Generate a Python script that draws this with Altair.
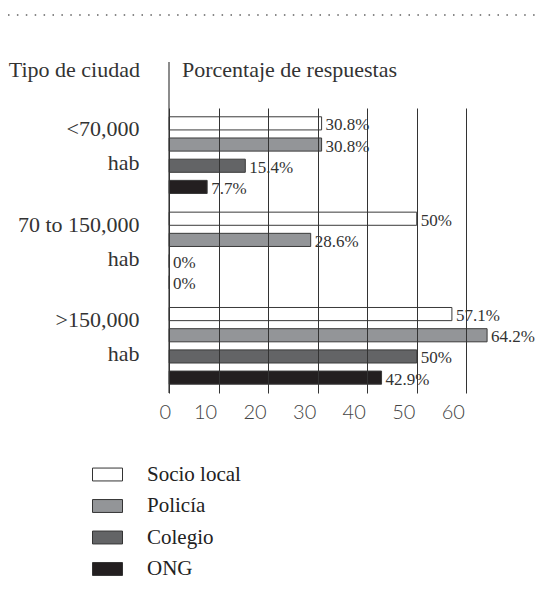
import altair as alt
import pandas as pd

groups = ["<70,000 hab", "70 to 150,000 hab", ">150,000 hab"]
series = ["Socio local", "Policía", "Colegio", "ONG"]
socio_local = [30.8, 50, 57.1]
policia = [30.8, 28.6, 64.2]
colegio = [15.4, 0, 50]
ong = [7.7, 0, 42.9]
colors = ["#ffffff", "#939598", "#636466", "#231f20"]
x_ticks = [0, 10, 20, 30, 40, 50, 60]

rows = []
for s, vals in zip(series, [socio_local, policia, colegio, ong]):
    for g, v in zip(groups, vals):
        rows.append({"grupo": g, "serie": s, "valor": v})
df = pd.DataFrame(rows)

W, H = 327, 285
SERIF = "Liberation Serif"

y_enc = alt.Y("grupo:N", sort=groups,
              scale=alt.Scale(paddingInner=0.111, paddingOuter=0.05),
              axis=alt.Axis(title=None, domain=False, ticks=False, tickSize=0, grid=False,
                            labelPadding=30, labelFont=SERIF, labelFontSize=22,
                            labelColor="#333", labelLineHeight=34, labelOffset=-26,
                            labelLimit=0, labelBaseline="middle",
                            labelExpr="[substring(datum.label, 0, lastindexof(datum.label, ' ')), substring(datum.label, lastindexof(datum.label, ' ') + 1)]"))
yoff_enc = alt.YOffset("serie:N", sort=series,
                       scale=alt.Scale(paddingInner=0.38, paddingOuter=0.19))
x_enc = alt.X("valor:Q", scale=alt.Scale(domain=[0, 66], nice=False),
              axis=alt.Axis(title=None, values=x_ticks, grid=True, gridColor="#333",
                            gridWidth=1, domain=False, ticks=False, tickSize=0,
                            labelFont="Lato", labelFontSize=20, labelFontWeight=300,
                            labelColor="#444", labelPadding=19, labelBaseline="middle",
                            labelOffset={"condition": {"test": "datum.value === 0", "value": -10},
                                         "value": -13.5},
                            zindex=1))

base = alt.Chart(df)

bars = base.mark_bar(stroke="#3a3a3a", strokeWidth=1, opacity=1).encode(
    x=x_enc,
    y=y_enc,
    yOffset=yoff_enc,
    fill=alt.Fill("serie:N", sort=series,
                  scale=alt.Scale(domain=series, range=colors),
                  legend=alt.Legend(title=None, orient="none", legendX=-77, legendY=351,
                                    direction="vertical",
                                    symbolType="M-1,-0.43L1,-0.43L1,0.43L-1,0.43Z",
                                    symbolSize=900, symbolStrokeColor="#333",
                                    symbolStrokeWidth=1, symbolOpacity=1,
                                    labelFont=SERIF, labelFontSize=21, labelColor="#222",
                                    labelOffset=24, rowPadding=5.5, labelLimit=0)),
)

labels = base.transform_calculate(etiqueta="datum.valor + '%'").mark_text(
    align="left", baseline="middle", dx=4, dy=2, font=SERIF, fontSize=17, color="#333"
).encode(
    x="valor:Q",
    y=alt.Y("grupo:N", sort=groups),
    yOffset=alt.YOffset("serie:N", sort=series),
    text="etiqueta:N",
)

axis_line = alt.Chart(pd.DataFrame({"v": [0]})).mark_rule(color="#666", strokeWidth=1.5).encode(
    x=alt.X("v:Q"), y=alt.value(-46), y2=alt.value(H)
)

dotted = alt.Chart(pd.DataFrame({"v": [0]})).mark_rule(
    color="#888", strokeWidth=2, strokeDash=[1.5, 7.4]
).encode(x=alt.value(-161), x2=alt.value(368), y=alt.value(-93))

head_left = alt.Chart(pd.DataFrame({"t": ["Tipo de ciudad"]})).mark_text(
    align="right", baseline="middle", font=SERIF, fontSize=22, color="#333"
).encode(text="t:N", x=alt.value(-29), y=alt.value(-38))

head_right = alt.Chart(pd.DataFrame({"t": ["Porcentaje de respuestas"]})).mark_text(
    align="left", baseline="middle", font=SERIF, fontSize=22, color="#333"
).encode(text="t:N", x=alt.value(13), y=alt.value(-38))

chart = alt.layer(bars, labels, axis_line, dotted, head_left, head_right).properties(
    width=W, height=H,
    autosize=alt.AutoSizeParams(type="none"),
    padding={"left": 161, "top": 100, "right": 41, "bottom": 189},
    background="white",
).configure_view(stroke=None)

chart.save("out.html", embed_options={"renderer": "svg", "actions": False})
